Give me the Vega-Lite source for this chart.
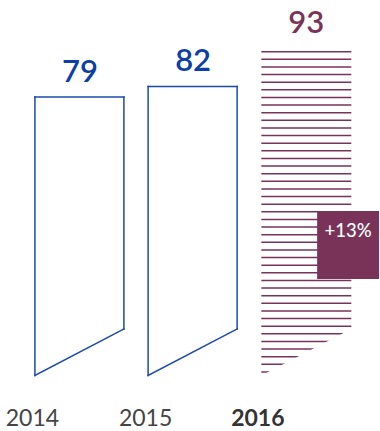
{
  "$schema": "https://vega.github.io/schema/vega-lite/v6.json",
  "width": 380,
  "height": 431,
  "autosize": {"type": "fit", "contains": "padding"},
  "padding": 0,
  "background": "white",
  "config": {"view": {"stroke": null}},
  "datasets": {
    "bars": [
      {"year": 2014, "value": 79},
      {"year": 2015, "value": 82},
      {"year": 2016, "value": 93}
    ],
    "badge": [{"label": "+13%"}]
  },
  "data": {"name": "bars"},
  "layer": [
    {
      "transform": [{"filter": "datum.year < 2016"}],
      "mark": {"type": "rule", "color": "#1b4aab", "strokeWidth": 1.5, "strokeCap": "square"},
      "encoding": {
        "x": {"field": "year", "type": "quantitative", "scale": {"domain": [2013.6916, 2017.0396], "nice": false, "zero": false}, "axis": null},
        "y": {"field": "value", "type": "quantitative", "scale": {"domain": [-15.745, 106.525], "nice": false, "zero": false}, "axis": null},
        "y2": {"datum": 0}
      }
    },
    {
      "transform": [{"filter": "datum.year < 2016"}],
      "mark": {"type": "rule", "color": "#1b4aab", "strokeWidth": 1.5, "strokeCap": "square", "xOffset": 89, "y2Offset": -46.5},
      "encoding": {
        "x": {"field": "year", "type": "quantitative", "scale": {"domain": [2013.6916, 2017.0396], "nice": false, "zero": false}, "axis": null},
        "y": {"field": "value", "type": "quantitative", "scale": {"domain": [-15.745, 106.525], "nice": false, "zero": false}, "axis": null},
        "y2": {"datum": 0}
      }
    },
    {
      "transform": [{"filter": "datum.year < 2016"}],
      "mark": {"type": "rule", "color": "#1b4aab", "strokeWidth": 1.5, "strokeCap": "square", "x2Offset": 89},
      "encoding": {
        "x": {"field": "year", "type": "quantitative", "scale": {"domain": [2013.6916, 2017.0396], "nice": false, "zero": false}, "axis": null},
        "x2": {"field": "year"},
        "y": {"field": "value", "type": "quantitative", "scale": {"domain": [-15.745, 106.525], "nice": false, "zero": false}, "axis": null}
      }
    },
    {
      "transform": [{"filter": "datum.year < 2016"}],
      "mark": {"type": "rule", "color": "#1b4aab", "strokeWidth": 1.5, "strokeCap": "square", "x2Offset": 89, "y2Offset": -46.5},
      "encoding": {
        "x": {"field": "year", "type": "quantitative", "scale": {"domain": [2013.6916, 2017.0396], "nice": false, "zero": false}, "axis": null},
        "x2": {"field": "year"},
        "y": {"datum": 0, "type": "quantitative", "scale": {"domain": [-15.745, 106.525], "nice": false, "zero": false}, "axis": null},
        "y2": {"datum": 0}
      }
    },
    {
      "transform": [{"filter": "datum.year == 2016"}],
      "mark": {"type": "rule", "color": "#7a3358", "strokeWidth": 90, "strokeCap": "butt", "xOffset": 45, "strokeDash": [1.6, 6.025], "strokeDashOffset": 4.425},
      "encoding": {
        "x": {"field": "year", "type": "quantitative", "scale": {"domain": [2013.6916, 2017.0396], "nice": false, "zero": false}, "axis": null},
        "y": {"field": "value", "type": "quantitative", "scale": {"domain": [-15.745, 106.525], "nice": false, "zero": false}, "axis": null},
        "y2": {"datum": 0}
      }
    },
    {
      "transform": [{"filter": "datum.year == 2016"}],
      "mark": {"type": "point", "shape": "M0,0L2,-1.0333L2.2,-1.0333L2.2,0.3L-0.2,0.3Z", "size": 8100, "filled": true, "fill": "white", "opacity": 1, "strokeWidth": 0},
      "encoding": {
        "x": {"field": "year", "type": "quantitative", "scale": {"domain": [2013.6916, 2017.0396], "nice": false, "zero": false}, "axis": null},
        "y": {"datum": 0, "type": "quantitative", "scale": {"domain": [-15.745, 106.525], "nice": false, "zero": false}, "axis": null}
      }
    },
    {
      "mark": {"type": "text", "xOffset": 45, "dy": -15, "baseline": "alphabetic", "align": "center", "font": "Lato", "fontSize": 31, "fontWeight": 600},
      "encoding": {
        "x": {"field": "year", "type": "quantitative", "scale": {"domain": [2013.6916, 2017.0396], "nice": false, "zero": false}, "axis": null},
        "y": {"field": "value", "type": "quantitative", "scale": {"domain": [-15.745, 106.525], "nice": false, "zero": false}, "axis": null},
        "text": {"field": "value", "type": "quantitative"},
        "color": {"condition": {"test": "datum.year == 2016", "value": "#7a3358"}, "value": "#0b3ea6"}
      }
    },
    {
      "transform": [{"filter": "datum.year < 2016"}],
      "mark": {"type": "text", "xOffset": -2.5, "baseline": "alphabetic", "align": "center", "font": "Lato", "fontSize": 23, "color": "#444444"},
      "encoding": {
        "x": {"field": "year", "type": "quantitative", "scale": {"domain": [2013.6916, 2017.0396], "nice": false, "zero": false}, "axis": null},
        "y": {"datum": -14.3, "type": "quantitative", "scale": {"domain": [-15.745, 106.525], "nice": false, "zero": false}, "axis": null},
        "text": {"field": "year", "type": "nominal"}
      }
    },
    {
      "transform": [{"filter": "datum.year == 2016"}],
      "mark": {"type": "text", "xOffset": -3.5, "baseline": "alphabetic", "align": "center", "font": "Lato", "fontSize": 23, "fontWeight": "bold", "color": "#333333"},
      "encoding": {
        "x": {"field": "year", "type": "quantitative", "scale": {"domain": [2013.6916, 2017.0396], "nice": false, "zero": false}, "axis": null},
        "y": {"datum": -14.3, "type": "quantitative", "scale": {"domain": [-15.745, 106.525], "nice": false, "zero": false}, "axis": null},
        "text": {"field": "year", "type": "nominal"}
      }
    },
    {
      "data": {"name": "badge"},
      "mark": {"type": "rect", "color": "#7a3358"},
      "encoding": {
        "x": {"datum": 2016.493, "type": "quantitative", "scale": {"domain": [2013.6916, 2017.0396], "nice": false, "zero": false}, "axis": null},
        "x2": {"datum": 2017.04},
        "y": {"datum": 46.67, "type": "quantitative", "scale": {"domain": [-15.745, 106.525], "nice": false, "zero": false}, "axis": null},
        "y2": {"datum": 27.4}
      }
    },
    {
      "data": {"name": "badge"},
      "mark": {"type": "text", "color": "white", "baseline": "alphabetic", "align": "center", "font": "Lato", "fontSize": 18.5, "fontWeight": 500},
      "encoding": {
        "x": {"datum": 2016.7665, "type": "quantitative", "scale": {"domain": [2013.6916, 2017.0396], "nice": false, "zero": false}, "axis": null},
        "y": {"datum": 39.37, "type": "quantitative", "scale": {"domain": [-15.745, 106.525], "nice": false, "zero": false}, "axis": null},
        "text": {"field": "label", "type": "nominal"}
      }
    }
  ]
}
